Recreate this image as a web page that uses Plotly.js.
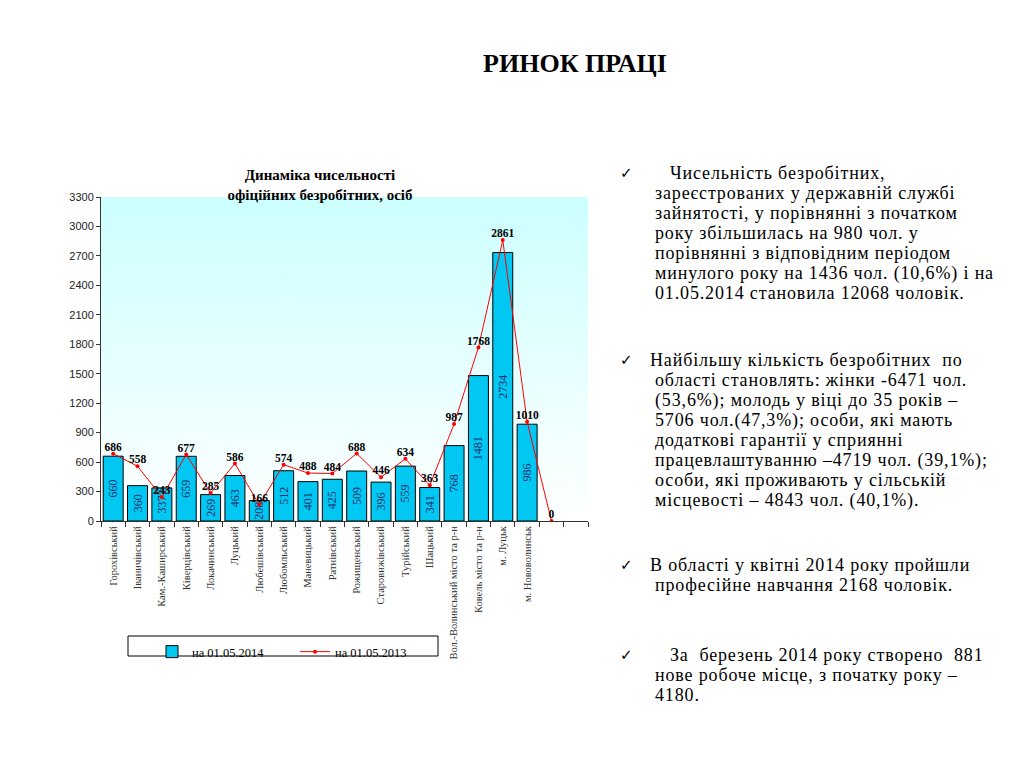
<!DOCTYPE html>
<html>
<head>
<meta charset="utf-8">
<script src="https://cdn.plot.ly/plotly-3.0.1.min.js"></script>
<style>
  html, body { margin: 0; padding: 0; background: #fff; }
  #wrap { position: relative; width: 1024px; height: 768px; overflow: hidden; }
  #chart { position: absolute; left: 0; top: 0; width: 1024px; height: 768px; }
  .slide-title { position: absolute; left: 0; width: 1150px; top: 49px; text-align: center;
    font-family: "Liberation Serif", "Times New Roman", serif; font-weight: bold; font-size: 26px; color: #000; }
  .para { position: absolute; left: 655px; width: 370px; font-family: "Liberation Serif", "Times New Roman", serif;
    font-size: 18px; line-height: 20px; letter-spacing: 0.85px; color: #000; white-space: nowrap; }
  .chk { position: absolute; left: 620px; font-family: "DejaVu Sans", sans-serif; font-size: 15px; line-height: 20px; color: #000; }
</style>
</head>
<body>
<div id="wrap">
  <div id="chart"></div>
  <div class="slide-title">РИНОК ПРАЦІ</div>

  <div class="chk" style="top:163px;">✓</div>
  <div class="para" style="top:163px;"><span style="margin-left:15px">Чисельність безробітних,</span><br>зареєстрованих у державній службі<br>зайнятості, у порівнянні з початком<br>року збільшилась на 980 чол. у<br>порівнянні з відповідним періодом<br>минулого року на 1436 чол. (10,6%) і на<br>01.05.2014 становила 12068 чоловік.</div>

  <div class="chk" style="top:350px;">✓</div>
  <div class="para" style="top:350px;"><span style="margin-left:-5px">Найбільшу кількість безробітних&nbsp; по</span><br>області становлять: жінки -6471 чол.<br>(53,6%); молодь у віці до 35 років –<br>5706 чол.(47,3%); особи, які мають<br>додаткові гарантії у сприянні<br>працевлаштуванню –4719 чол. (39,1%);<br>особи, які проживають у сільській<br>місцевості – 4843 чол. (40,1%).</div>

  <div class="chk" style="top:555px;">✓</div>
  <div class="para" style="top:555px;"><span style="margin-left:-5px">В області у квітні 2014 року пройшли</span><br>професійне навчання 2168 чоловік.</div>

  <div class="chk" style="top:645px;">✓</div>
  <div class="para" style="top:645px;"><span style="margin-left:15px">За&nbsp; березень 2014 року створено&nbsp; 881</span><br>нове робоче місце, з початку року –<br>4180.</div>
</div>
<script>
// ---- data ----
const categories = [
  "Горохівський", "Іваничівський", "Кам.-Каширський", "Ківерцівський", "Локачинський",
  "Луцький", "Любешівський", "Любомльський", "Маневицький", "Ратнівський",
  "Рожищенський", "Старовижівський", "Турійський", "Шацький",
  "Вол.-Волинський місто та р-н", "Ковель місто та р-н", "м. Луцьк", "м. Нововолинськ"
];
const values2014 = [660, 360, 337, 659, 269, 463, 208, 512, 401, 425, 509, 396, 559, 341, 768, 1481, 2734, 986];
const values2013 = [686, 558, 243, 677, 285, 586, 166, 574, 488, 484, 688, 446, 634, 363, 987, 1768, 2861, 1010, 0];
const seriesNames = ["на 01.05.2014", "на 01.05.2013"];
const yTicks = [0, 300, 600, 900, 1200, 1500, 1800, 2100, 2400, 2700, 3000, 3300];
const slotCount = 20;

// ---- build ----
const serif = "Liberation Serif, Times New Roman, serif";
const xBars = values2014.map((v, i) => i);
const xLine = values2013.map((v, i) => i);
const boundaries = Array.from({length: slotCount + 1}, (_, i) => i - 0.5);

// gradient background image for the plot area
const cv = document.createElement("canvas");
cv.width = 4; cv.height = 256;
const ctx = cv.getContext("2d");
const g = ctx.createLinearGradient(0, 0, 0, 256);
g.addColorStop(0, "#ccffff");
g.addColorStop(1, "#ffffff");
ctx.fillStyle = g; ctx.fillRect(0, 0, 4, 256);
const bgURL = cv.toDataURL("image/png");

const traces = [
  {
    type: "bar", name: seriesNames[0], x: xBars, y: values2014,
    width: 0.82,
    marker: {color: "#00c8f2", line: {color: "#000", width: 1}},
    text: values2014.map(String), textposition: "inside", insidetextanchor: "middle",
    textangle: -90, constraintext: "none",
    textfont: {family: serif, size: 12, color: "#1a2f6b"},
    hoverinfo: "skip"
  },
  {
    type: "scatter", mode: "lines+markers", name: seriesNames[1], x: xLine, y: values2013,
    line: {color: "#ff0000", width: 1},
    marker: {color: "#ff0000", size: 4},
    hoverinfo: "skip"
  },
  {
    type: "scatter", mode: "text", showlegend: false, x: xLine, y: values2013,
    text: values2013.map(String), textposition: "top center",
    textfont: {family: serif, size: 11.5, color: "#000", weight: "bold"},
    cliponaxis: false, hoverinfo: "skip"
  }
];

const layout = {
  width: 1024, height: 768,
  margin: {l: 101, r: 1024 - 588, t: 197, b: 768 - 521, pad: 0},
  paper_bgcolor: "#ffffff",
  plot_bgcolor: "rgba(0,0,0,0)",
  showlegend: true,
  title: {
    text: "Динаміка чисельності<br>офіційних безробітних, осіб",
    font: {family: serif, size: 15, color: "#000", weight: "bold"},
    xref: "container", x: 320 / 1024, xanchor: "center",
    yref: "container", y: 1 - 180 / 768, yanchor: "top"
  },
  xaxis: {
    type: "linear", range: [-0.5, slotCount - 0.5], fixedrange: true,
    tickmode: "array", tickvals: xBars, ticktext: categories,
    ticks: "", tickangle: -90,
    tickfont: {family: serif, size: 10.5, color: "#333"},
    showgrid: false, zeroline: false,
    showline: true, linecolor: "#333", linewidth: 1,
    minor: {tickmode: "array", tickvals: boundaries, ticks: "outside", ticklen: 5, tickcolor: "#333", tickwidth: 1, showgrid: false}
  },
  yaxis: {
    range: [0, 3300], fixedrange: true,
    tickmode: "array", tickvals: yTicks,
    ticks: "outside", ticklen: 4, tickcolor: "#333",
    tickfont: {family: "Liberation Sans, Arial, sans-serif", size: 11, color: "#222"},
    showgrid: false, zeroline: false,
    showline: true, linecolor: "#333", linewidth: 1
  },
  legend: {
    orientation: "h", xref: "paper", yref: "paper",
    x: 51 / 487, xanchor: "left", y: (521 - 637) / 324, yanchor: "top",
    bgcolor: "rgba(0,0,0,0)", borderwidth: 0,
    font: {family: serif, size: 12.5, color: "#000"},
    entrywidth: 98, entrywidthmode: "pixels", tracegroupgap: 0
  },
  shapes: [{
    type: "rect", xref: "paper", yref: "paper",
    x0: 27 / 487, x1: 337 / 487, y0: (521 - 636) / 324, y1: (521 - 656) / 324,
    line: {color: "#000", width: 1}, fillcolor: "rgba(0,0,0,0)"
  }],
  images: [{
    source: bgURL, xref: "paper", yref: "paper", x: 0, y: 1, sizex: 1, sizey: 1,
    sizing: "stretch", xanchor: "left", yanchor: "top", layer: "below"
  }],
  uniformtext: {mode: "show", minsize: 12}
};

Plotly.newPlot("chart", traces, layout, {displayModeBar: false, staticPlot: true});
</script>
</body>
</html>
